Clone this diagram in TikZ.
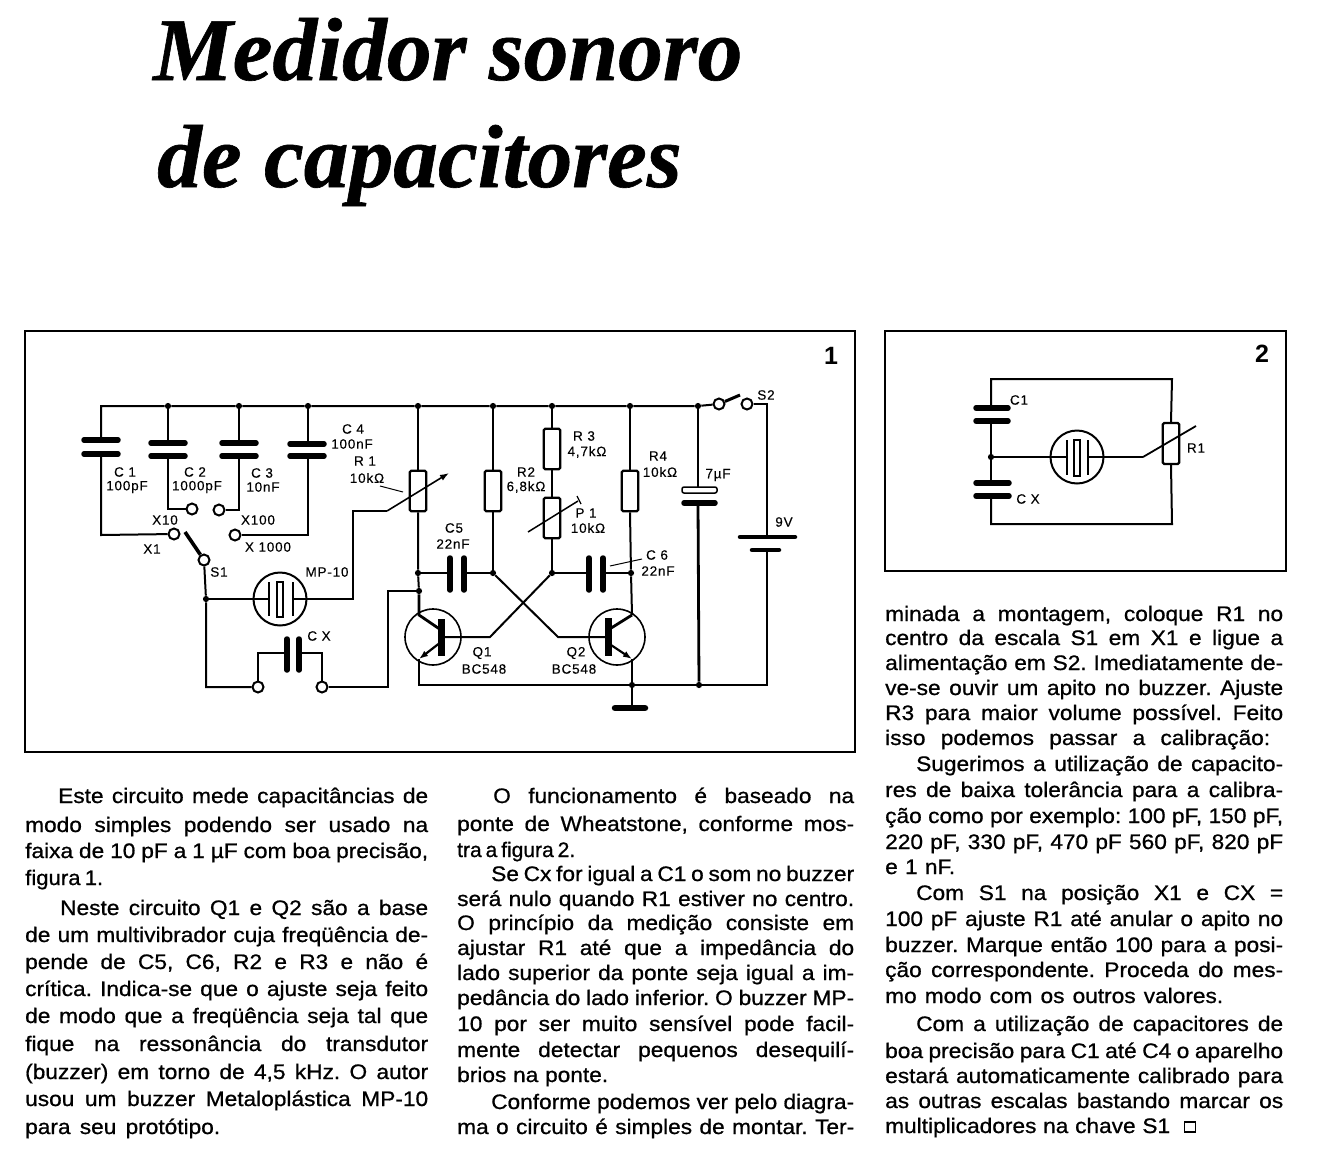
\documentclass[tikz,border=0pt]{standalone}
\usepackage{graphicx}
\usepackage{fontspec}
\usetikzlibrary{arrows.meta}
\setmainfont{Liberation Sans}
\newfontfamily\bodyfont{Liberation Sans}[FakeBold=0.8,FakeStretch=1.08]
\newfontfamily\labfont{Liberation Sans}[LetterSpace=6,FakeBold=0.15]
\newfontfamily\headfont{Liberation Serif}[BoldItalicFeatures={FakeBold=0.7}]
\frenchspacing
\newsavebox\linebox
\newcommand{\fitline}[2]{\sbox\linebox{\spaceskip=.2em plus 1em\relax #2}\ifdim\wd\linebox>#1pt\relax\resizebox{#1pt}{\ht\linebox}{\usebox\linebox}\else\hbox to #1pt{\spaceskip=.2em plus 1em\relax #2}\fi}
\newcommand{\tl}[5]{\node[anchor=base west,inner sep=0] (#1) at (#2,#3) {\fitline{#4}{#5}};}
\tikzset{
  wire/.style={line width=2pt},
  twire/.style={line width=2.8pt},
  plate/.style={line width=5.5pt,line cap=round},
  term/.style={circle,draw,fill=white,line width=2pt,minimum size=11pt,inner sep=0},
  dot/.style={circle,fill=black,minimum size=6.2pt,inner sep=0},
  resbox/.style={rectangle,rounded corners=1.5pt,draw,fill=white,line width=2.2pt,minimum width=16.5pt,minimum height=40.5pt,inner sep=0},
  lab/.style={inner sep=0,font=\labfont\fontsize{13.5}{14}\selectfont},
  buzz/.style={circle,draw,line width=2pt,minimum size=53pt,inner sep=0},
  trans/.style={circle,draw,line width=1.6pt,minimum size=56pt,inner sep=0},
  frame/.style={rectangle,draw,line width=2.4pt,inner sep=0},
  arrowwire/.style={line width=1.6pt,-{Latex[length=9pt,width=6.5pt]}},
}
\begin{document}
\begin{tikzpicture}[x=1pt,y=-1pt]
\path[use as bounding box,fill=white] (0,0) rectangle (1325,1165);
% title
\node[anchor=base west,inner sep=0,font=\headfont\bfseries\itshape\fontsize{89.5}{100}\selectfont] (t1) at (153,80) {Medidor sonoro};
\node[anchor=base west,inner sep=0,font=\headfont\bfseries\itshape\fontsize{89.5}{100}\selectfont] (t2) at (157,187) {de capacitores};
% frames
\node[frame,minimum width=830pt,minimum height=421pt,anchor=north west] (F1) at (23.5,329.5) {};
\node[frame,minimum width=401pt,minimum height=240pt,anchor=north west] (F2) at (883.5,329.5) {};
\node[font=\bfseries\fontsize{25}{26}\selectfont,inner sep=0] (n1) at (831,356) {1};
\node[font=\bfseries\fontsize{25}{26}\selectfont,inner sep=0] (n2) at (1262,354) {2};

% ---------- figure 1 coordinates
\coordinate (tl) at (101,406);
\node[dot] (jc2) at (168,406) {};
\node[dot] (jc3) at (239,406) {};
\node[dot] (jc4) at (308,406) {};
\node[dot] (jr1) at (418,406) {};
\node[dot] (jr2) at (493,406) {};
\node[dot] (jr3) at (552,406) {};
\node[dot] (jr4) at (630,406) {};
\node[dot] (jcb) at (698,406) {};
\node[term] (s2a) at (719,404) {};
\node[term] (s2b) at (747,404) {};
\coordinate (s2c) at (767,406);
\coordinate (br) at (767,685);
\coordinate (bl) at (419,685);
\node[dot] (jgnd) at (632,685) {};
\node[dot] (jcbb) at (699,685) {};
\coordinate (gnd) at (632,708);
% capacitor plates
\coordinate (c1a) at (101,440); \coordinate (c1b) at (101,454);
\coordinate (c2a) at (168,443); \coordinate (c2b) at (168,456);
\coordinate (c3a) at (239,443); \coordinate (c3b) at (239,456);
\coordinate (c4a) at (308,444); \coordinate (c4b) at (308,456);
\draw[plate] (84,440) -- (118,440) (84,454) -- (118,454);
\draw[plate] (151,443) -- (185,443) (151,456) -- (185,456);
\draw[plate] (222,443) -- (256,443) (222,456) -- (256,456);
\draw[plate] (290,444) -- (324,444) (290,456) -- (324,456);
% selector
\node[term] (x1) at (174,534) {};
\node[term] (x10) at (192,509) {};
\node[term] (x100) at (219,510) {};
\node[term] (x1000) at (235,535) {};
\node[term] (s1) at (204,560) {};
\coordinate (c1c) at (101,535); \coordinate (c2c) at (168,509); \coordinate (c3c) at (239,510); \coordinate (c4c) at (308,535);
\draw[wire] (c1b) -- (c1c) -- (x1);
\draw[wire] (c2b) -- (c2c) -- (x10);
\draw[wire] (c3b) -- (c3c) -- (x100);
\draw[wire] (c4b) -- (c4c) -- (x1000);
\draw[wire] (jc2) -- (c2a); \draw[wire] (jc3) -- (c3a); \draw[wire] (jc4) -- (c4a);
\draw[wire] (c1a) -- (tl) -- (jc2) -- (jc3) -- (jc4) -- (jr1) -- (jr2) -- (jr3) -- (jr4) -- (jcb) -- (s2a);
\draw[line width=3.6pt] (185,532) -- (s1);
\draw[wire] (s2b) -| (s2c);
\draw[line width=3pt] (s2a) -- (740,395);
% S1 node & buzzer
\node[dot] (j1) at (206,599) {};
\coordinate (bot1) at (206,687);
\node[term] (cxa) at (258,687) {};
\node[term] (cxb) at (322,687) {};
\draw[wire] (s1) -- (j1) -- (bot1) -- (cxa);
\node[buzz] (bz) at (280,599) {};
\coordinate (bzl) at (269,599); \coordinate (bzr) at (293,599);
\draw[twire] (j1) -- (bzl);
\draw[line width=1.6pt] (269,582) -- (269,616) (293,582) -- (293,616);
\draw[line width=1.7pt] (277,582) rectangle (283,617);
\coordinate (mp1) at (353,599); \coordinate (mp2) at (353,511); \coordinate (mp3) at (387,511);
\draw[twire] (bzr) -- (mp1) -- (mp2) -- (mp3);
% CX
\coordinate (cxal) at (258,653); \coordinate (cxp1) at (288,653);
\coordinate (cxbl) at (322,653); \coordinate (cxp2) at (299,653);
\draw[wire] (cxa) -- (cxal) -- (cxp1);
\draw[wire] (cxb) -- (cxbl) -- (cxp2);
\draw[plate] (287,639) -- (287,670) (299,639) -- (299,670);
\coordinate (cr1) at (388,687); \coordinate (cr2) at (388,591);
\node[dot] (j2) at (419,591) {};
\draw[wire] (cxb) -- (cr1) -- (cr2) -- (j2);
% R1
\node[resbox] (R1) at (418,491) {};
\draw[wire] (jr1) -- (R1.north);
\draw[arrowwire] (mp3) -- (449,473);
\draw[line width=1pt] (380,486) -- (403,492);
% R2 R3 P1 R4
\node[resbox] (R2) at (493,491) {};
\node[resbox] (R3) at (552,449) {};
\node[resbox] (P1) at (552,518) {};
\node[resbox] (R4) at (630,491) {};
\node[dot] (j3) at (418,573) {};
\node[dot] (j4) at (493,573) {};
\node[dot] (j5) at (552,573) {};
\node[dot] (j6) at (631,573) {};
\draw[wire] (jr2) -- (R2.north);
\draw[wire] (R2.south) -- (j4);
\draw[twire] (jr3) -- (R3.north);
\draw[twire] (R3.south) -- (P1.north);
\draw[wire] (P1.south) -- (j5);
\draw[wire] (jr4) -- (R4.north);
\draw[wire] (R4.south) -- (j6);
\draw[line width=1.5pt] (528,532) -- (578,501);
\draw[line width=1.2pt] (577,496) -- (581,504);
\draw[wire] (R1.south) -- (j3) -- (j2);
% C5 C6
\coordinate (c5a) at (450,573); \coordinate (c5b) at (464,573);
\coordinate (c6a) at (589,573); \coordinate (c6b) at (603,573);
\draw[wire] (j3) -- (c5a); \draw[wire] (c5b) -- (j4);
\draw[wire] (j5) -- (c6a); \draw[wire] (c6b) -- (j6);
\draw[plate] (450,558) -- (450,590) (464,558) -- (464,590);
\draw[plate] (589,558) -- (589,590) (603,558) -- (603,590);
\draw[line width=1pt] (610,566) -- (642,559);
% Q1
\node[trans] (Q1) at (433,637) {};
\node[trans] (Q2) at (617,637) {};
\draw[line width=7pt] (441,619) -- (441,656);
\draw[line width=7pt] (608,618) -- (608,656);
\coordinate (q1c) at (419,615); \coordinate (q1e) at (419,659);
\coordinate (q2c) at (632,615); \coordinate (q2e) at (632,659);
\draw[twire] (j2) -- (q1c) -- (441,630);
\draw[arrowwire,line width=2.2pt] (441,642) -- (q1e);
\draw[twire] (q1e) -- (bl) -- (jgnd);
\draw[twire] (608,630) -- (q2c);
\draw[wire] (j6) -- (q2c);
\draw[arrowwire,line width=2.2pt] (608,643) -- (q2e);
\draw[wire] (q2e) -- (jgnd);
\draw[twire] (jgnd) -- (jcbb) -- (br) -- (767,552);
% crossing
\coordinate (b1) at (490,637); \coordinate (b2) at (558,637);
\draw[wire] (441,637) -- (b1) -- (j5);
\draw[wire] (608,637) -- (b2) -- (j4);
% 7uF
\draw[line width=1.5pt,rounded corners=2pt,fill=white] (682,487) rectangle (717,493);
\draw[plate] (684,503) -- (715,503);
\coordinate (c7a) at (698,487); \coordinate (c7b) at (698,503);
\draw[twire] (jcb) -- (c7a);
\draw[twire] (c7b) -- (jcbb);
% battery
\draw[plate,line width=4.5pt] (740,537) -- (795,537);
\draw[plate,line width=4.5pt] (752,550) -- (779,550);
\coordinate (bat) at (767,537); \coordinate (batb) at (767,550);
\draw[wire] (s2c) -- (bat);
\draw[wire] (batb) -- (br);
% ground
\draw[twire] (jgnd) -- (gnd);
\draw[plate,line width=6.5pt] (615,708) -- (645,708);

% labels fig 1
\foreach \nm/\x/\y/\t in {
 l1/125/472/C 1, l2/127/487/100pF, l3/195/472/C 2, l4/197/487/1000pF, l5/262/473/C 3, l6/263/487/10nF,
 l7/353/429/C 4, l8/352/444/100nF, l9/365/461/R 1, l10/367/478/10kΩ, l11/165/520/X10, l12/152/549/X1,
 l13/258/520/X100, l14/268/547/X 1000, l15/219/572/S1, l16/327/572/MP-10, l17/319/636/C X,
 l18/584/436/R 3, l19/587/452/{4,7kΩ}, l20/526/472/R2, l21/526/487/{6,8kΩ}, l22/658/456/R4, l23/660/472/10kΩ,
 l24/718/475/7µF, l25/586/513/P 1, l26/588/528/10kΩ, l27/454/528/C5, l28/453/544/22nF, l29/657/555/C 6, l30/658/571/22nF,
 l31/482/653/Q1, l32/484/669/BC548, l33/576/653/Q2, l34/574/669/BC548, l35/784/522/9V, l36/766/395/S2}
 {\node[lab] (\nm) at (\x,\y) {\t};}

% ---------- figure 2
\coordinate (a1) at (991,379); \coordinate (a2) at (1172,379);
\coordinate (a3) at (991,524); \coordinate (a4) at (1172,524);
\node[dot] (aj) at (991,457) {};
\node[resbox,minimum height=41pt] (RT) at (1171,443.5) {};
\node[buzz] (bz2) at (1077,457) {};
\coordinate (ac1) at (991,408); \coordinate (ac2) at (991,421);
\coordinate (ac3) at (991,483); \coordinate (ac4) at (991,496);
\coordinate (bl2) at (1067,457); \coordinate (br2) at (1088,457); \coordinate (ax) at (1143,457);
\draw[wire] (ac1) -- (a1) -- (a2) -- (RT.north);
\draw[wire] (RT.south) -- (a4) -- (a3) -- (ac4);
\draw[wire] (ac2) -- (aj) -- (ac3);
\draw[twire] (aj) -- (bl2);
\draw[twire] (br2) -- (ax);
\draw[line width=1.6pt] (1067,440) -- (1067,475) (1088,440) -- (1088,475);
\draw[line width=1.7pt] (1074,440) rectangle (1080,476);
\draw[line width=1.8pt] (ax) -- (1196,426);
\draw[plate] (976,408) -- (1008,408) (976,421) -- (1008,421);
\draw[plate] (976,483) -- (1009,483) (976,496) -- (1009,496);
\node[lab] (c1x) at (1019,400) {C1};
\node[lab] (cxx) at (1028,499) {C X};
\node[lab] (rtx) at (1196,448) {R1};

% ---------- body text
\begin{scope}[font=\bodyfont\fontsize{21}{24}\selectfont]
\tl{a1l}{58}{803}{370}{Este circuito mede capacitâncias de}
\tl{a2l}{25}{832}{403}{modo simples podendo ser usado na}
\tl{a3l}{25}{858}{403}{faixa de 10 pF a 1 µF com boa precisão,}
\tl{a4l}{25}{885}{78}{figura 1.}
\tl{a5l}{60}{915}{368}{Neste circuito Q1 e Q2 são a base}
\tl{a6l}{25}{942}{403}{de um multivibrador cuja freqüência de-}
\tl{a7l}{25}{969}{403}{pende de C5, C6, R2 e R3 e não é}
\tl{a8l}{25}{996}{403}{crítica. Indica-se que o ajuste seja feito}
\tl{a9l}{25}{1023}{403}{de modo que a freqüência seja tal que}
\tl{a10l}{25}{1051}{403}{fique na ressonância do transdutor}
\tl{a11l}{25}{1079}{403}{(buzzer) em torno de 4,5 kHz. O autor}
\tl{a12l}{25}{1106}{403}{usou um buzzer Metaloplástica MP-10}
\tl{a13l}{25}{1134}{195}{para seu protótipo.}

\tl{b1l}{493}{803}{361}{O funcionamento é baseado na}
\tl{b2l}{457}{831}{397}{ponte de Wheatstone, conforme mos-}
\tl{b3l}{457}{857}{118}{tra a figura 2.}
\tl{b4l}{491}{881}{363}{Se Cx for igual a C1 o som no buzzer}
\tl{b5l}{457}{906}{397}{será nulo quando R1 estiver no centro.}
\tl{b6l}{457}{930}{397}{O princípio da medição consiste em}
\tl{b7l}{457}{955}{397}{ajustar R1 até que a impedância do}
\tl{b8l}{457}{980}{397}{lado superior da ponte seja igual a im-}
\tl{b9l}{457}{1005}{397}{pedância do lado inferior. O buzzer MP-}
\tl{b10l}{457}{1031}{397}{10 por ser muito sensível pode facil-}
\tl{b11l}{457}{1057}{397}{mente detectar pequenos desequilí-}
\tl{b12l}{457}{1082}{151}{brios na ponte.}
\tl{b13l}{491}{1109}{363}{Conforme podemos ver pelo diagra-}
\tl{b14l}{457}{1134}{397}{ma o circuito é simples de montar. Ter-}

\tl{c1l}{885}{621}{398}{minada a montagem, coloque R1 no}
\tl{c2l}{885}{645}{398}{centro da escala S1 em X1 e ligue a}
\tl{c3l}{885}{670}{398}{alimentação em S2. Imediatamente de-}
\tl{c4l}{885}{695}{398}{ve-se ouvir um apito no buzzer. Ajuste}
\tl{c5l}{885}{720}{398}{R3 para maior volume possível. Feito}
\tl{c6l}{885}{745}{385}{isso podemos passar a calibração:}
\tl{c7l}{916}{771}{367}{Sugerimos a utilização de capacito-}
\tl{c8l}{885}{797}{398}{res de baixa tolerância para a calibra-}
\tl{c9l}{885}{823}{398}{ção como por exemplo: 100 pF, 150 pF,}
\tl{c10l}{885}{849}{398}{220 pF, 330 pF, 470 pF 560 pF, 820 pF}
\tl{c11l}{885}{874}{70}{e 1 nF.}
\tl{c12l}{916}{900}{367}{Com S1 na posição X1 e CX =}
\tl{c13l}{885}{926}{398}{100 pF ajuste R1 até anular o apito no}
\tl{c14l}{885}{952}{398}{buzzer. Marque então 100 para a posi-}
\tl{c15l}{885}{977}{398}{ção correspondente. Proceda do mes-}
\tl{c16l}{885}{1003}{338}{mo modo com os outros valores.}
\tl{c17l}{916}{1031}{367}{Com a utilização de capacitores de}
\tl{c18l}{885}{1058}{398}{boa precisão para C1 até C4 o aparelho}
\tl{c19l}{885}{1083}{398}{estará automaticamente calibrado para}
\tl{c20l}{885}{1108}{398}{as outras escalas bastando marcar os}
\tl{c21l}{885}{1133}{285}{multiplicadores na chave S1}
\end{scope}
\node[draw,line width=1.6pt,minimum width=11pt,minimum height=10pt,inner sep=0] (endbox) at (1190,1127) {};
\end{tikzpicture}
\end{document}
